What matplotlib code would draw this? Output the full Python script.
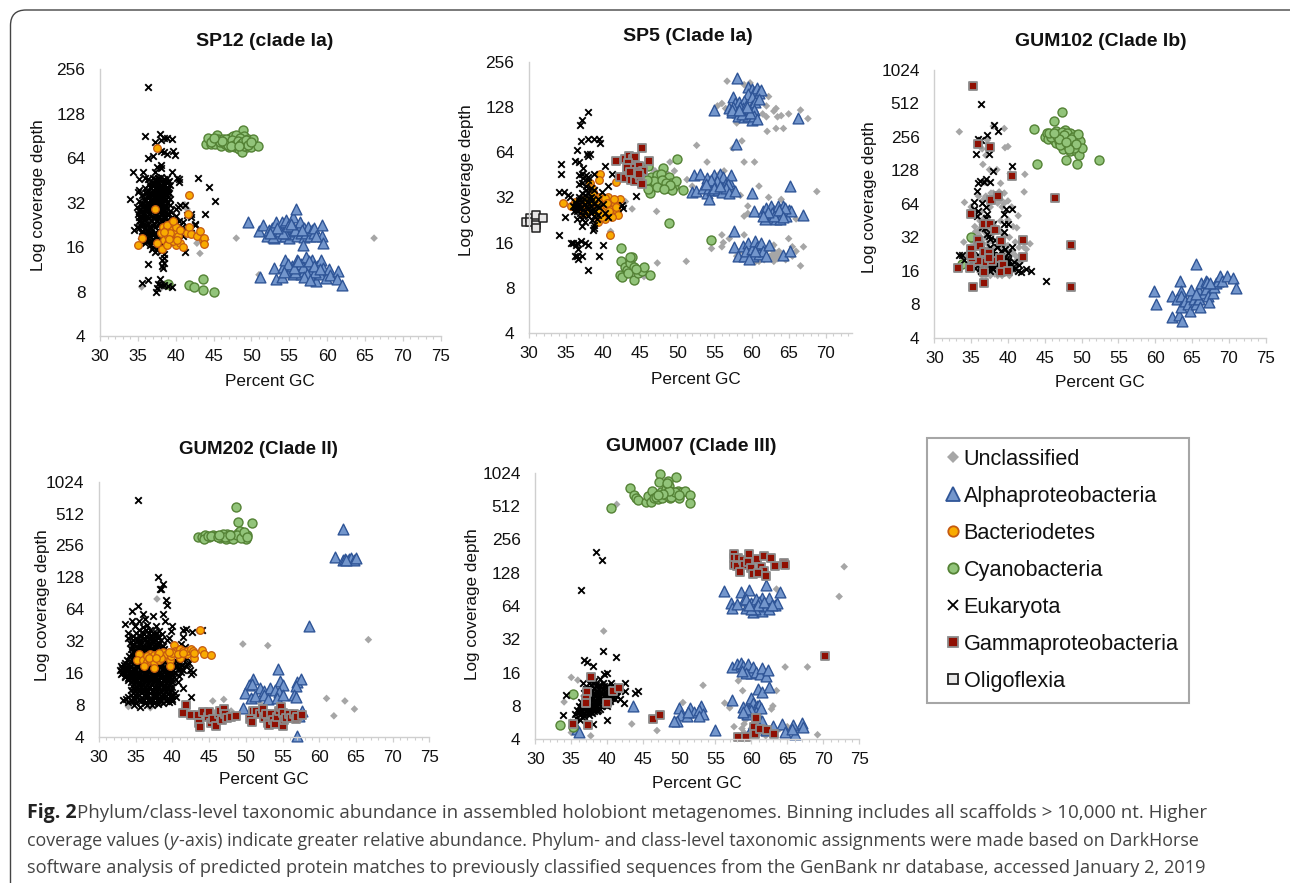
import matplotlib
matplotlib.use("Agg")
import matplotlib.pyplot as plt
from matplotlib.lines import Line2D
from matplotlib.patches import FancyBboxPatch
from matplotlib.ticker import FixedLocator, FixedFormatter, NullLocator

plt.rcParams['font.family'] = ['Liberation Sans', 'DejaVu Sans']
plt.rcParams['mathtext.fontset'] = 'custom'

W, H = 1290, 883

# ------------------------------------------------------------ SP12
sp12_unclass = [(48,18.4),(66.2,18.4),(43.2,14.5),(41.2,31),(44,18),(35.5,8.6),(38.5,9),(43,18.5),(42.3,20),(40,19),(51,10.4),(59.6,10),(60,10.5),(41.5,29),(38,8.4),(42.8,17),(52.5,19),(56,10.5)]
sp12_alpha = [(49.5,23.8),(51,20.6),(51.5,22.6),(52,19),(52.3,21),(52.7,21.5),(53,18.5),(53.2,20),(53.3,23.5),(53.6,19),(54,21),(54.1,23.5),(54.4,19),(54.6,24.3),(55,18.5),(55,21),(55.3,19.5),(55.5,22),(55.6,20.5),(55.5,25.5),(55.9,29),(56,19),(56.2,22),(56.4,23.5),(56.5,20),(57,18.6),(57,21.5),(57.2,20),(57.5,22),(57.8,19),(58,21),(58.2,20),(58.3,21.7),(56.8,16.6),(59.3,22.5),(59.3,19),(59.5,17),(54.5,20),(53.8,20.5),(52.8,18.7),(54.2,19.8),(54.8,22.2),(55.8,21),(56.7,21),(53.4,21.7),(52.4,20),(55.2,23),(58.5,18.9),
(51.1,10.1),(53,11.5),(53.3,9.7),(54,10),(54.2,11.8),(54.5,13),(55,11),(55.3,12),(55.5,10.6),(56,13),(56,11.5),(56.5,10.5),(56.5,12.3),(57,11),(57.2,13.7),(57.5,12),(57.8,10.4),(58,13),(58,11.3),(58.5,9.4),(58.7,12),(59,10.5),(59.2,13),(59.5,11.5),(59.8,9.9),(60.3,11.3),(60.4,10.4),(61.5,11),(61.3,9.8),(62,8.8),(55.8,10.8),(56.8,11.8),(57.3,10.6),(58.4,10.8),(54.8,12.3),(55.6,11.6),(56.2,12.8),(57.6,12.8),(58.2,12),(59,11.4),(56.9,10),(57.8,9.6),(54.3,10.8)]
sp12_bact = [(35,16.5),(35.5,18.5),(37.5,75),(41.8,36),(41.6,27),(37.3,29),(38,20),(38.3,22),(38.5,18),(38.7,21),(39,19),(39,17),(39.3,23),(39.5,21),(39.5,18.5),(39.8,20),(40,22),(40,16.5),(40.3,19),(40.6,21),(40.6,17),(41,16),(41.5,20),(41.7,22),(42,19.5),(42.8,19),(43.2,20.5),(43.6,18),(43.8,18.5),(43.7,16.8),(38.2,15.5),(38.8,16.5),(37.5,17),(39.2,20),(39.6,17.5),(40.2,18),(38.9,22.5),(39.7,24),(38.4,20.2),(39.1,18.2)]
sp12_cyano = [(44,80),(44.3,88),(44.6,80),(45,84),(45.2,80),(45.5,92),(45.6,86),(46,78),(46.2,86),(46.5,80),(46.8,84),(47,76),(47.2,88),(47.4,82),(47.6,90),(47.8,76),(48,86),(48.2,80),(48.4,74),(48.6,84),(48.8,78),(48.9,100),(48.7,70),(49,90),(49.2,82),(49.4,76),(49.6,86),(49.8,80),(50,76),(50.2,86),(50.9,78),(46.6,86),(47.2,80),(48,92),(48.5,88),(49,78),(44.7,83),(47.9,82),(45.8,83),(46.3,82),(46.9,79),(47.5,85),(47.7,79),(48.2,84),(48.6,80),(48.9,83),(49.3,85),(49.5,79),(49.9,83),(47.3,78),(48.3,77),(46.1,84),(45.1,88),
(39,9),(41.7,8.8),(42.4,8.6),(43.6,9.7),(43.6,8.2),(45,7.9)]
sp12_euk = [(36.4,195),(36,90),(37.9,94),(38,85),(38.4,88),(39.5,86),(38.8,88),(37.2,82),(38,72),(38.5,70),(38.8,68),(39.6,72),(39.9,67),(36.4,64),(37,66),(38,58),(37.5,56),(37.2,52),(38,55),(34.3,52),(35.7,52),(39.5,52),(35.2,46),(35.9,47),(36.4,46),(40.2,47),(40.5,44),(40.5,46),(43,47),(44.4,41),(45.2,33),(43.9,27),(41.2,31),(40.3,30),(40.6,31),(41.5,26.5),(42,27),(42,25.5),(40,26),(42.5,22.5),(42.5,23),(41.5,21),(42,20),(41,19),(41.2,14.8),(36.3,12.3),(38.2,13),(38.5,13.5),(38.5,12.5),(38.3,11.5),(38.2,12),(35.5,9.1),(36.3,9.6),(37.9,9.8),(37.6,9),(37.5,8.5),(38,8.8),(37.4,8),(39.5,8.6),(39,8.7),(38.5,8.9),(33.9,34),(35,38),(35.2,39),
(37.2,46),(37.6,47),(38,48),(38.4,46),(38.8,47),(39.1,45),
(36.5,43),(36.9,42),(37.3,43),(37.7,44),(38.1,42),(38.5,43),(38.9,41),(39.2,42),
(36,40),(36.4,39),(36.8,40),(37.2,38),(37.6,40),(38,39),(38.4,38),(38.8,39),(39.1,37),
(35.6,36),(36.1,37),(36.5,35),(36.9,36),(37.3,37),(37.7,35),(38.1,36),(38.5,35),(38.9,36),(39.2,34),
(35.2,33),(35.6,32),(36,33),(36.4,31.5),(36.8,33),(37.2,32),(37.6,33),(38,31.5),(38.4,33),(38.8,32),(39.2,31),
(34.9,30),(35.3,29),(35.7,30),(36.1,28.5),(36.5,30),(36.9,28.5),(37.3,30),(37.7,29),(38.1,30),(38.5,28.5),(38.9,29.5),(39.3,28),(40,29),
(35,27),(35.4,26),(35.8,27),(36.2,26),(36.6,27),(37,25.5),(37.4,27),(37.8,26),(38.2,27),(38.6,25.5),(39,26.5),(39.4,25),
(35.1,24),(35.5,23.5),(35.9,24.5),(36.3,23),(36.7,24.5),(37.1,23),(37.5,24),(37.9,23),(38.3,24),(38.7,23),(40.5,24),(41,23.5),
(34.5,21),(35.2,21.5),(35.6,20.5),(36,21.5),(36.4,20),(36.8,21.5),(37.2,20),(37.6,21),(38,19.5),(34.9,22),(40.8,22),
(35.8,19),(36.2,18.5),(36.6,19),(37,18),(37.4,19),(37.8,18),(38.2,17),(35.4,17.5),(36,17),(36.6,16.5),(37.2,16.5),(37.7,16),(38,15),(37.3,14.8),(36.9,15.5),(38.4,14.4)]
sp12_euk_core = [(37,47),(37.4,45),(37.8,46),(38.2,45),(38.6,45),(39,44),(37,44),(37.5,42),(37.9,41),(38.3,41),(38.7,40),(39,39.5),(36.6,41),(37,39),(37.4,41),(37.8,38),(38.2,40),(38.6,37),(39,38),(36.2,38),(36.6,37),(37,37),(37.4,35),(37.8,37),(38.2,34),(38.6,33.5),(39,35),(35.8,34),(36.2,35),(36.6,33.5),(37,34),(37.4,33.5),(37.8,34),(38.2,32.5),(38.7,34),(35.4,31),(35.8,31),(36.2,30.5),(36.6,31.5),(37,31),(37.4,31),(37.8,31),(38.2,29.5),(38.7,30.5),(35.1,28),(35.5,28),(35.9,28.5),(36.3,29),(36.7,28),(37.1,29.5),(37.5,28),(37.9,28),(38.3,28),(38.7,27.5),(39.1,27),(35.2,25.5),(35.6,25),(36,25),(36.4,25),(36.8,26),(37.2,25),(37.6,25),(38,24.5),(38.4,25),(38.8,24.5),(35.3,22.5),(35.7,22.5),(36.1,22.5),(36.5,22),(36.9,22.5),(37.3,22),(37.7,22.5),(38.1,22),(38.5,21.5),(35.5,20),(35.9,20),(36.3,21),(36.7,20),(37.1,19.5),(37.5,19.5),(37.9,20),(36,18),(36.4,17.5),(36.8,17.5),(37.2,17.5),(37.6,17),(38,16.5),(37,16),(37.5,15.2),(36.1,19.5),(38.4,26),(38.4,30),(37.2,35.5),(36.8,30),(36.4,27.5),(38.1,37.5),(37.6,38),(38.4,35.5)]

# ------------------------------------------------------------ SP5
sp5_unclass = [(55.4,130),(56,135),(56.5,125),(56.7,190),(58,100),(59.8,185),(59,180),(60.5,115),(61.5,115),(62,110),(62.3,150),(62,130),(63,120),(63.3,125),(63.5,110),(64,112),(65,115),(66.6,122),(67.6,107),(62.1,88),(63.3,92),(64.3,92),(58.7,76),(52.6,71),(57.5,68),
(54,55),(59,55),(60.4,55),(55.7,46),(56.3,48),(51.3,42),(52,38),(57.5,35),(58.5,33),(61,38),(62.3,32),(64,31),(59.5,28),(59.5,25),(59,24),(66,23),(68.8,35),(49.6,48),(49,55),(47.2,25.8),(43.9,26.8),(41,19),(38.3,33),(43,30),(45,50),(46.5,50),(47,48),(48.5,47),(42,42),
(56,18),(56.2,16),(54.6,14.6),(56,15),(57,17),(58.5,14),(58,13),(59,18),(59.5,13),(60,12),(61,12),(62,13),(62.5,13),(63,14),(63.2,13),(63.5,12.5),(64,13),(65,17),(65.5,15),(66,14),(65.5,13),(66.6,11.2),(67,15),(51.2,12),(47.3,11.7),(44.5,10),(45.5,9.5),(44,12.5),(63,12),(62.8,15),(62.2,14.5),(60.5,11.9),(63.7,14),(62.8,12.8),(63.3,13.6),(63.6,13.8),(62.9,13.4),(60.9,12.6),(57.8,14.5),(58.3,12.6),(61.7,12.3),(63,15.4),(64.6,12.3)]
sp5_alpha = [(58,200),(55,122),(57.5,150),(59.5,175),(60,168),(60.3,160),(60.8,170),(61,158),(61.3,165),(59.5,155),(60,150),(57.8,135),(58.3,138),(59,140),(60,130),(60.5,138),(61,145),(58,118),(58.8,125),(59.5,120),(60.3,122),(57.3,118),(57,125),(57.5,128),(58.2,112),(58.5,128),(59,110),(59.5,112),(60,105),(60.3,112),(60.8,106),(66.3,108),(57.4,123),(59.2,130),(58.7,115),(59.8,116),(59.4,127),(58.3,122),
(57.9,72),(52.3,45),(53,45.5),(54,43),(54.5,40),(55,45),(55.5,42),(55.8,46),(56.2,44),(56.5,40),(57,41),(57.2,45),(56.8,39),(52,35),(52.5,35.5),(53.5,37),(54,34),(54.3,37),(54.7,36),(55.2,39),(55.5,36),(56,35),(56.5,37),(57,34),(57.8,35.5),(54.2,31),(60,34),(65.2,38),(55.3,41),(54.5,42),(55,37),(55.8,38),(53.8,39),
(60.3,26),(61.5,26),(62,27),(62.3,24),(62.6,28),(63,26),(63.3,23),(63.5,28),(64,25),(64.2,28),(64.6,24),(65,26.5),(65.3,26),(62.8,25),(61.8,23),(63.8,23),(66.9,24.5),(64.5,27),(63,24),(62.2,25.5),(63.7,26.5),(61.6,24.2),(64.3,23.8),
(57.6,19),(57.6,15),(58.2,13),(58.8,15.2),(59,13),(59.5,16),(59.2,14),(60,14.5),(60.2,13),(60.4,16.5),(60.8,15),(61,13.5),(61.3,16),(61.5,14),(62,13),(62.3,15.5),(64.2,13.3),(65.2,14),(59.7,12.5),(60.5,14)]
sp5_bact = [(34.6,29.5),(35.7,28),(36.2,30),(37,27),(37.5,31),(37.8,25),(38,28),(38.3,30),(38.5,27),(38.8,33),(38.6,35),(39,25),(39.2,29),(39.4,32),(39.6,46),(39.7,27),(40,30),(40,24),(40.3,26),(40.5,28),(40.7,32),(40.9,24),(41.2,27),(41,30),(41.5,25),(41.6,29),(41.9,26),(42,24.5),(42.3,31),(41.7,40.5),(40.9,18),(39.4,42),(38.2,40),(37.3,25),(41.2,23.5),(40.2,22.8),(39.3,22),(39.8,23.5),(38.5,37),(39.5,30),(40.2,31.5),(40.8,26),(39.6,25.3),(41.4,31),(39.1,26.5),(40.5,29.5),(41.7,27.5),(38.9,31)]
sp5_cyano = [(50,58),(48,50),(46,52),(45,52),(50.8,36),(48.9,21.5),(54.6,16.6),(42.4,14.8),(45.5,43),(46,40),(46.4,44),(46.7,38),(47,42),(47.3,45),(47.5,40),(47.8,46),(48,38),(48.3,42),(48.6,37),(48.9,44),(49.2,40),(49.6,38),(49.8,41),(46.3,34),(47.6,38.7),(46,36.5),(49.3,36),(46.8,41),(47.9,41.5),(48.5,40),(49,38.5),(47.2,37.5),(45.9,42),(48.2,36.5),
(42.4,12),(42.9,11),(43.2,10.5),(43.6,11.7),(43.9,12.8),(44.1,11),(42.2,9.7),(42.6,9.5),(43.3,10),(44.1,9),(44.7,10),(45.2,10.4),(45.5,11),(46.3,9.8),(43.6,12.8),(44.4,10.6)]
sp5_euk = [(37.9,118),(37.1,105),(36.9,97),(37,76),(38,78),(38.8,78),(39.4,78),(39.6,74),(36.5,66),(37.8,62),(38.2,62),(38,60),(36.2,56),(36.8,55),(34.3,53),(37.3,50),(38.7,46),(40.2,52),(41.2,46),(34.3,46),(36.8,45),(37.2,46),(37.7,45),(38,42),(37.2,40),(36.8,39),(37.7,38),(38.3,37),(34,35),(34.7,35),(35.2,33),(35.5,32),(36.2,30),(36.7,32),(37.1,34),(37.6,33),(38,34),(38.4,32),(38.8,36),(39.3,31),(39.8,35),(40.6,38),(44.4,32.5),(42.6,28.5),(42.7,27),
(36.2,27.5),(36.7,29),(37.1,30),(37.5,29),(37.9,30),(38.3,28),(38.7,29),(39.1,28),(39.5,27.5),(40,29),(36,26),(36.5,26),(37,27),(37.5,26),(38,27),(38.4,25),(38.9,26),(39.3,24.5),(40.2,25),(40.7,23.5),(34.9,23.5),(36.5,23),(37.2,23),(37.5,22),(37.9,24),(38.5,22.5),(39.2,23),(37.2,20.5),(38.7,21),(38.6,19.5),(38.7,20),
(34,18),(35.7,16),(36.3,15.5),(36.6,14.5),(37,16.5),(37.5,16),(40,15.5),(39.4,13),(36.5,13),(36.2,13),(36.6,12.4),(37.2,13),(37.9,10.5),(38,15.5),(35.9,16),(36.5,16),(37.7,36),(36.7,27),(37.3,43),(37.9,44),(38.5,30.5),(37.4,31),(36.9,25),(38.1,31.5),(37.7,27.5),(38.5,26.5),(36.4,28.5),(35.9,28),(38.8,24),(37.3,24.5),(36.7,30.5)]
sp5_gamma = [(45.2,68),(41.7,56),(43,58),(43.5,60),(44,58),(44.3,59),(46.2,56),(43.4,54),(44.8,52),(43.8,50),(45.4,48),(43.2,50),(44.5,47),(44,45),(42.2,44),(43,43),(43.7,42),(44.3,41),(45,43),(45.2,39),(44.8,46),(43.6,47)]
sp5_oligo = [(29.6,22),(30.2,23.3),(30.2,22),(31,22.8),(31,24.5),(31,21),(31.9,23.3),(31,20)]

# ------------------------------------------------------------ GUM102
g102_unclass = [(33.4,285),(38,320),(39.5,305),(39.6,205),(40,210),(36.5,200),(37,175),(35.8,230),(37.2,240),(36,225),(42.3,118),(42.2,82),(39,98),(38.5,130),(40.3,120),(36.9,100),(34.1,66),(37,75),(38,80),(38.8,82),(39.5,80),(35,60),(36,75),(36.7,70),(39,70),(39.5,65),(40,68),(40.5,60),(38.3,73),(41.4,50),(41.2,39),(40.7,40),(35.8,50),(36.2,45),(37.2,48),(38,42),(39,45),(40,46),(34,29),(35,30),(35.5,40),(36,34),(37.5,36),(38.5,30),(39.6,33),(40.2,32),(41,29),(42.2,26),(43,28),(42.5,25),(35.5,25),(36.5,26),(37.5,24),(38.7,27),(39.8,24),(41,22),(33.8,18),(34.5,22),(35.5,19),(36.2,21),(37,16),(37.6,14.5),(38.2,15),(39.2,14.5),(40.2,14.5),(41,16),(42,20),(35.5,17),(36.5,14.5),(38,18),(39,19),(40.5,18),(37.5,130),(36.6,145),
(36.4,55),(36.8,48),(37.6,60),(37.7,80),(38.6,65),(39.2,60),(35.6,36),(36.2,38),(36.8,36),(37,32),(37.4,40),(38,35),(38.7,38),(39.2,35),(35.2,30),(35.8,28),(36.4,30),(37.2,28),(37.8,30),(38.3,26),(39,25),(39.4,28),(40,27),(40.6,24),(41.5,26),(35,24),(35.8,22),(36.8,24),(37.2,21),(38,23),(38.4,21),(39.2,22),(39.7,22),(40.3,22),(35.2,18),(36,17.5),(36.8,17),(37.4,19),(38.2,17),(39,16),(39.8,16.5),(40.5,16),(41.2,20),(41.6,19),(36.2,15.5),(37,14.5),(38.6,14.5)]
g102_alpha = [(65.5,18.5),(59.9,10.5),(60.1,8),(63.4,13),(63.5,10.5),(62.3,9.5),(63,9),(63.5,9.5),(62.3,6.2),(63.2,6.4),(63.7,5.6),(63.5,7.5),(64,8.5),(64.5,8),(64.8,9.5),(64.9,10.8),(64.7,7),(65.3,9),(65.6,8),(66,10.5),(66,9),(66.2,12.5),(66.1,7.6),(66.6,10),(66.9,11),(66.9,13),(67,12.6),(67.2,9.5),(67.3,8.3),(67.8,10),(68,11.5),(68.2,12.5),(68.5,13),(68.8,14.5),(69,13),(69.7,14.3),(70.6,13.7),(70.9,11.2),(67.5,12.3),(65.6,9.8)]
g102_cyano = [(43.5,300),(44,145),(47.3,430),(46.3,355),(52.3,158),(45,255),(45.3,275),(45.5,245),(46,265),(46.2,240),(46.5,225),(46.5,290),(47,270),(47.2,250),(47.5,225),(47.5,200),(47.8,295),(47.9,160),(48,255),(48.2,235),(48.4,190),(48.6,270),(48.8,215),(49,240),(49.2,190),(49.3,265),(49.4,145),(49.5,250),(49.7,175),(49.8,235),(50,205),(48.4,280),(47,235),(45.8,255),(49,205),(48,215),(45.6,280),(46.7,260),(47.4,285),(48,275),(48.9,255),(49.5,270),(47.6,265),(47.1,215),(46.9,245),(48.5,245),(49.2,220),(48.3,200),(47.9,230),(46.2,280),(35,32.5),(33.8,18.5)]
g102_euk = [(36.3,510),(38.1,325),(38.6,290),(37.2,265),(35.9,245),(36.3,240),(35.6,180),(37.4,178),(40.6,140),(38,127),(36.2,102),(36.7,100),(37,108),(37.5,100),(36,98),(35.8,83),(35.4,67),(36.5,65),(37,60),(35.4,58),(36,55),(37.2,52),(40.5,57),(39.7,58),(39.5,52),(35.8,50),(37,48),(39.4,42),(40,42),(38,42),(36.5,40),(36.9,39),(39.5,36),(37.2,34),(37.4,33),(37.5,31),(38.2,30),(39,28),(40.6,26),(38.5,26),(37.5,26),(33.3,22),(33.8,22),(37,25),(38,24),(39,24),(39.6,25),(40,23),(36,22),(36.6,23),(37.3,22.5),(38,22),(38.8,22),(39.5,21),(34,20),(35,19),(35.6,19),(36.3,20),(37,20),(37.7,20),(38.5,20),(39.2,20),(40,20),(40.8,19),(35.5,17),(36.2,17),(36.7,18),(37.3,17),(37.8,17),(38,16.5),(38.4,18),(39,17),(39.7,18),(40,19),(40.5,17),(41,17),(41.5,18),(41.4,16),(41.8,15.5),(42.5,16.5),(43.1,16),(45.2,13),(36.4,16),(37.6,16),(37.9,18),(38.8,16),(39.6,19.5),(40,18),(40.2,17.5),(37.4,18.5),(38.2,17.5),(37.7,18.5),(38.6,18.8),(39.3,18.5),(36.8,20),(37.3,19.5),(38.1,19.2),(39.8,20.5),(39.9,17),(37.5,17.4),(37,17.3)]
g102_gamma = [(35.3,740),(35.9,223),(37.5,208),(40.6,113),(46.4,72),(48.5,27.5),(48.5,11.5),(42,30),(42,21.5),(35,52),(37.7,70),(38.7,75),(36.7,42),(37.5,42),(38.2,37),(36,30),(39,29.5),(35,25),(36.2,27),(36.7,23.5),(37.4,23),(33.2,17),(34.9,17),(35.3,11.5),(36.7,12.5),(36.8,15.5),(36.8,19),(36,19.5),(35.1,21),(35,22),(37.9,19.5),(38.9,21),(39.3,18),(39,15.5),(40,16),(37.4,21)]

# ------------------------------------------------------------ GUM202
g202_unclass = [(37.9,80),(49.6,30),(53,29),(66.7,33),(61,9.2),(63.5,8.7),(64.8,7.3),(62,6.3),(45.5,8.7),(47,9),(34,7.7),(37,7.5),(40.3,13),(43.5,40),(48,7),(52,8.2),(55,7.6)]
g202_alpha = [(63.2,370),(62.2,197),(63.2,185),(63.5,190),(64,192),(64.4,196),(64.7,186),(65,196),(63.7,185),(58.6,44),(54.4,17.3),(51,14),(50.4,12.2),(50.9,12.5),(54.7,13.5),(57,13),(57.5,14),(56.9,12),(55,12.3),(52,11.5),(52.5,10.8),(53.3,11.5),(54,11),(54.5,10.5),(49.9,10.3),(50.7,9.3),(51.3,9.6),(52.5,10),(53,9),(54.2,9.2),(55,10),(56.5,10),(56.8,9.5),(49.6,7.4),(57.6,7),(57.2,6.3),(57,4.1)]
g202_bact = [(43.8,41),(40.2,29.5),(35.5,24),(35.2,21),(36,21),(36.5,20.5),(36.1,18.5),(37,21),(37.5,20.5),(37.5,18),(37,24),(37.5,23.5),(38,24),(38.2,21),(38.7,25),(39,23),(39.3,24),(39.7,21),(39.7,18.5),(39.8,23),(40.3,26),(40.5,25),(41,22),(41,27),(41.5,26),(42,24),(42,26),(42.5,27),(42.8,26),(43,22),(43,24.5),(44,26.5),(44.3,24),(45.2,23.7),(38.5,22),(36.5,23),(40,24.5),(38.2,24.5),(39.5,25),(40.7,24),(41.5,24.5),(36.8,22),(37.7,22)]
g202_cyano = [(48.7,590),(49,425),(50.9,420),(43.5,310),(44,305),(44.5,320),(45,305),(45.5,320),(46,315),(46.5,300),(47,315),(47.5,330),(47.8,300),(48,320),(48.5,305),(49,335),(49.5,310),(49.8,330),(50,295),(50.2,320),(46.7,310),(47.3,295),(48.2,310),(49.2,350),(44.3,295),(44.8,315),(45.3,312),(46.2,305),(46.9,325),(47.6,310),(48.3,295),(48.8,320),(49.3,300),(49.7,345),(50.1,305),(47.1,305),(46.4,320),(47.8,320)]
g202_euk = [(35.3,690),(38,130),(38.7,110),(38.5,100),(38.3,100),(39.1,78),(39.2,70),(35.3,68),(34.5,62),(36,58),(36.2,52),(37.3,55),(38.7,58),(39,50),(34.5,50),(35.5,50),(33.5,46),(39.9,44),(39.8,40),(41.4,41),(41.9,42),(42.7,39),(44,41),(41.5,35),(39.3,33),(39.5,34),(34,38),(36,43),(36.5,45),(37,41),(37.8,44),(38.2,40),(38.6,37),
(34,34),(34.6,36),(35.1,38),(35.6,36),(36.1,37),(36.6,35),(37.1,36),(37.6,36),(38.1,34),(38.5,33),(34.2,31),(34.7,30),(35.2,32),(35.7,31),(36.2,33),(36.7,30),(37.2,32),(37.7,30),(38.2,31),(38.7,29),(41.2,30),(41.7,28),
(34.3,27),(34.8,26),(35.3,28),(35.8,27),(36.3,26),(36.8,28),(37.3,26),(37.8,28),(38.3,26),(38.8,27),(39.2,25),(34.5,24),(35,23),(35.5,25),(36,24),(36.6,25),(37.1,23),(37.6,25),(38.2,23),(38.8,24),(39.5,23),(42.2,20),(41.5,21),(42,22),
(33.8,21),(34.3,20.5),(34.8,21.5),(35.3,20),(35.8,22),(36.3,20),(36.8,21.5),(37.3,20),(37.8,21.5),(38.3,19.5),(38.8,20.5),(39.3,19.5),(39.8,20),(40.3,21),(40.8,20),(41.3,19),(41.8,18.5),(42.4,17),(42.8,16.5),(42.5,15.5),
(33,18.5),(33.4,19),(33.8,18),(34.3,18.5),(34.8,17.8),(35.3,18.7),(35.8,18),(36.3,18.5),(36.8,18),(37.3,18.5),(37.8,17.8),(38.3,18.5),(38.8,18),(39.3,18),(39.8,17.7),(40.3,18.4),(40.8,17.5),(41.2,17.5),
(32.8,17),(33.3,16.5),(33.8,17),(34.3,16),(34.8,16.7),(35.3,16),(35.8,16.8),(36.3,16),(36.8,16.8),(37.3,16),(37.8,16.6),(38.3,16),(38.8,16.6),(39.3,16),(39.8,16.3),(40.3,16),(33,15.5),(33.6,15),(34.2,14.8),(34.8,15),(35.4,14.8),(36,15),(36.6,14.8),(37.2,15),(37.8,14.8),(38.4,15),(39,14.8),(39.6,15),(40.2,14.6),
(34,13.6),(34.6,13.8),(35.2,13.4),(35.8,13.8),(36.4,13.4),(37,13.8),(37.6,13.4),(38.2,13.8),(38.8,13.4),(39.4,13.6),(40,13),(34.8,12.5),(35.4,12.3),(36,12.6),(36.6,12.2),(37.2,12.6),(37.8,12.2),(38.4,12.6),(39,12.2),(39.6,12.4),(41.4,11.6),
(35,11.3),(35.6,11.4),(36.2,11.1),(36.8,11.5),(37.4,11.1),(38,11.4),(38.6,11),(39.2,11.3),(39.8,11),(34.6,10.4),(35.2,10.3),(35.8,10.5),(36.4,10.1),(37,10.4),(37.6,10),(38.2,10.3),(38.8,10),(39.4,10.2),(40,9.7),(34,9.5),(34.6,9.3),(35.2,9.6),(35.8,9.2),(36.4,9.5),(37,9.1),(37.6,9.4),(38.2,9),(38.8,9.3),(39.4,9),(40,9),(42.5,9.4),
(33.3,8.8),(33.9,8.5),(34.5,8.6),(35.1,8.4),(35.7,8.7),(36.3,8.3),(36.9,8.6),(37.5,8.3),(38.1,8.6),(38.7,8.4),(39.6,8.5),(34.8,8),(35.6,7.7),(36.6,8),(37.2,8),(38,8.1)]
g202_euk_core = [(34.9,44),(35.4,41),(35.9,39),(36.4,41),(36.8,38),(37.3,38),(37.8,38),(34.6,33),(35.1,34),(35.6,33),(36.1,34),(36.6,32),(37.1,33.5),(37.6,33),(38,36),(34.5,28.5),(35,29),(35.5,30),(36,29),(36.5,28),(37,29.5),(37.5,28.5),(38,29.5),(38.5,28),(34.6,25.5),(35.1,26),(35.6,26),(36.1,25.5),(36.6,26.5),(37.1,26),(37.6,26.5),(38.1,25),(38.6,25),(34.1,23),(34.7,22.5),(35.2,24.5),(35.7,23),(36.3,22.8),(36.8,24),(37.3,22.5),(37.9,23.5),(38.4,22),(39.1,21.8),(39.9,21.6),(40.6,22),
(33.5,20),(34,19.5),(34.6,19.7),(35.1,19),(35.6,20.5),(36.1,19.5),(36.6,20.5),(37.1,19),(37.6,19.7),(38.1,20.5),(38.6,19.2),(39.1,21),(39.6,19),(40.1,19.6),(40.6,19),(41.1,20.5),(33.1,17.8),(33.6,17.6),(34.1,17.3),(34.6,17.5),(35.1,17.2),(35.6,17.5),(36.1,17.3),(36.6,17.4),(37.1,17.2),(37.6,17.2),(38.1,17.2),(38.6,17.4),(39.1,17.2),(39.6,17),(40.1,17),(40.6,18.8),
(33.1,16),(33.6,16),(34.1,15.7),(34.6,15.5),(35.1,15.6),(35.6,15.7),(36.1,15.8),(36.6,15.5),(37.1,15.7),(37.6,15.5),(38.1,15.7),(38.6,15.5),(39.1,15.6),(39.6,15.6),(40,15.5),(33.5,14.5),(34,14.3),(34.5,14.2),(35,14.1),(35.5,14.3),(36,14.2),(36.5,14.1),(37,14.3),(37.5,14.2),(38,14.1),(38.5,14.3),(39,14.1),(39.5,14.2),(40,14),(34.3,13),(34.9,13),(35.5,13),(36.1,13),(36.7,12.9),(37.3,13),(37.9,12.9),(38.5,13),(39.1,12.9),(39.7,12.9),(34.5,12),(35.1,11.9),(35.7,11.8),(36.3,11.9),(36.9,11.9),(37.5,11.8),(38.1,11.8),(38.7,11.7),(39.3,11.8),(39.9,11.8),
(34.4,11),(34.9,10.9),(35.5,10.9),(36.1,10.7),(36.7,10.8),(37.3,10.7),(37.9,10.8),(38.5,10.6),(39.1,10.7),(39.7,10.6),(40.3,10.4),(34.3,10),(34.9,9.9),(35.5,9.9),(36.1,9.9),(36.7,9.8),(37.3,9.8),(37.9,9.8),(38.5,9.7),(39.1,9.6),(39.7,9.6),(33.7,9.1),(34.3,8.9),(34.9,9),(35.5,8.9),(36.1,8.9),(36.7,8.9),(37.3,8.9),(37.9,8.8),(38.5,8.8),(39.1,8.7),(39.9,8.7),(40.5,9.5),(40.7,13.2),(40.9,15),(41.2,16.5),(41.5,17.2),(42,19.5),(37.5,9.8)]
g202_gamma = [(41.9,8),(41.5,6.7),(42.5,6.4),(43.5,6.4),(43.6,5.4),(43.7,4.9),(44.2,6.8),(44.8,6.1),(45,6.9),(45.2,5.4),(45.5,5.9),(46,5.1),(46.3,6.5),(46.5,7),(46.7,5.8),(47,7.3),(47.2,6.5),(47.5,6),(48,6.1),(48.7,6.3),(50.6,5.9),(50.9,5.5),(51,7),(51.4,7),(52,6.5),(52.4,7.3),(52.5,6),(52.8,6.6),(53,5.4),(53.2,5.2),(53.5,6.5),(53.7,5.8),(54,5.3),(54.3,6.1),(54.5,7),(54.8,7.6),(55,5),(55.1,6.7),(55.2,5.7),(55.5,6),(55.9,6.5),(56.2,6),(56.5,6.5),(56.8,5.9),(57,6.2),(57.7,6.4)]

# ------------------------------------------------------------ GUM007
g007_unclass = [(41.3,530),(72.9,145),(72.2,78),(39.5,38),(64.7,18),(67.8,18),(53.3,12.3),(63.5,11),(60.2,9),(58.2,13.5),(58.8,11),(56.3,8.5),(57,7.7),(60.5,7),(62.8,7.5),(63,8),(43.4,5.5),(46.9,4.8),(35,14.5),(35.9,13.7),(34,8.7),(35.3,9.7),(37.7,4.3),(35,4.6),(57.6,5.2),(58.2,4.3),(58.7,5),(59,5.5),(59,4.6),(59.2,6),(60,5),(60.8,4.5),(61.5,4.5),(62,4.3),(63,5),(64,5),(65,5.2),(66,5),(69.2,4.4),(50.5,8.6),(53.5,6.4),(59,6.6),(63.5,91)]
g007_alpha = [(56.2,88),(57.2,68),(57.3,61),(58.6,86),(59,72),(59.7,90),(59.2,62),(60,68),(60.3,57),(60.6,74),(61.2,62),(61.5,76),(61.5,58),(62,64),(62.1,100),(62.5,75),(62.5,60),(63.3,65),(63.5,68),(64,86),(60.5,60),(61,70),(58,67),(59.2,74),(60,60),(60.9,65),(61.8,70),(62.9,66),(59.7,66),
(57.3,18),(58,19),(58.5,19.5),(58.9,18.5),(59.2,17),(59.5,19),(60,16),(60.3,18),(60.7,16.3),(61.2,15.5),(61.5,17.5),(62,15),(62.3,17),(59.3,16),(58.7,16.7),
(60.9,11.3),(61.5,10.7),(62.5,11.8),(57.3,9),(59.5,8),(59.8,7.8),(60,9.5),(60.2,8.5),(60.5,7.5),(60.8,8),(61.1,8.2),(59,7),(59.4,6.8),(60.6,7),(58.8,7.8),(60,7.3),(59.3,7.5),(58.9,7),(61.4,7.6),
(43.5,8),(50,7.7),(51.5,7.6),(53,8),(50.2,6.7),(51,6.5),(52,7),(52.7,7.4),(53.3,6.8),(49.7,5.8),(49.3,5.8),(51.2,7),(52.8,6.5),
(55,4.9),(35.8,5),(36,4.7),(60,5),(61.5,5.9),(62,4.9),(63,5.3),(64.2,5.5),(64.7,4.7),(65.8,5.4),(66,4.5),(67,5.6),(67.2,5.2),(65.6,5),(61,5.2)]
g007_cyano = [(47.3,1000),(49.6,930),(47.2,840),(48.4,860),(43.2,740),(43.7,640),(44,610),(44.3,580),(45.4,560),(45.6,625),(46,560),(46.2,700),(46.5,600),(47,590),(47.4,680),(47.8,620),(48.2,730),(48.5,780),(48.7,600),(49,680),(49.3,650),(49.8,700),(50,610),(50.4,680),(50.8,700),(51.5,650),(51.5,545),(46.8,620),(47.6,600),(48.1,650),(48.4,680),(48.9,620),(49.4,690),(49.9,640),(48.6,700),(48.3,820),(47.8,660),(47.1,650),
(40.5,490),(35.3,10.3),(33.4,5.4),(35.2,5.2)]
g007_euk = [(38.4,195),(39.2,168),(36.3,90),(39.4,25),(41.2,22),(36.8,21),(37.2,20),(38,18.5),(39.5,15.5),(40,16),(42.5,13),(42.5,11),(41.2,11),(44.3,11),(43.8,10.5),(34.3,10),(33.8,6.7),(40,6),(38,5.5),(36.6,12.8),(37.7,15),(39,14),(40.5,13),
(37.5,13),(38.2,13.5),(38.8,12.5),(39.4,13),(40,12),(40.6,12),(37,11.5),(37.6,11.7),(38.2,11.7),(38.8,11.3),(39.4,11.5),(40,11),(40.6,10.7),(41.2,10),(36.8,10.5),(37.4,10.5),(38,10.3),(38.6,10.5),(39.2,10.3),(39.8,10),(40.4,9.7),(41,9.3),(41.8,9.2),(42.3,8.5),(36.8,9.5),(37.4,9.5),(38,9.3),(38.6,9.5),(39.2,9.2),(39.8,9),(40.4,8.8),(36.4,8.6),(37,8.7),(37.6,8.6),(38.2,8.6),(38.8,8.3),(39.4,8.4),(40,8),(36,8),(36.6,7.8),(37.2,7.9),(37.8,7.7),(38.4,7.8),(39,7.5),(35.8,7.3),(36.4,7.2),(37,7.2),(37.6,7),(38.2,7.2),(35.5,6.8),(36.2,6.6),(36.8,6.5),(37.4,6.6),(35.6,6.2),(36.2,6),(35.2,5.7)]
g007_euk_core = [(37.8,12.3),(38.4,12.3),(39,12),(39.6,12.2),(37.3,11),(37.9,11),(38.5,11),(39.1,10.8),(39.7,10.8),(40.3,10.3),(40.9,10.2),(37.1,10),(37.7,10),(38.3,9.9),(38.9,9.9),(39.5,9.8),(40.1,9.4),(40.7,9.4),(37.1,9.1),(37.7,9.1),(38.3,9),(38.9,9),(39.5,8.9),(40.1,8.6),(36.7,8.2),(37.3,8.3),(37.9,8.2),(38.5,8.2),(39.1,8),(39.7,8.1),(36.3,7.6),(36.9,7.6),(37.5,7.5),(38.1,7.5),(38.7,7.4),(36.1,7),(36.7,6.9),(37.3,6.9),(37.9,6.9),(36.5,6.3),(38.4,8.7),(38.8,9.5),(37.8,9.6),(39.3,9.5),(39.9,9.5),(37.5,8.9),(38.1,8),(37,8.1),(38.6,7.2),(38,12.8),(40.3,11.2),(41.4,9.8)]
g007_gamma = [(70.2,22.5),(46.3,6.1),(47.3,6.7),(37.8,14.5),(37.2,10.7),(37,9.2),(37,8.5),(37.3,5.4),(35.2,5.5),(40,8.5),(40.8,11),(41.6,11.7),(57.6,190),(57.6,175),(58.2,172),(57.6,150),(58,148),(58.8,165),(59.7,190),(59,150),(59.6,160),(60,140),(60.8,170),(61.8,180),(61.4,145),(61.8,132),(60.3,125),(60.9,127),(62,120),(58.4,130),(62.8,172),(63.3,148),(64.5,155),(64.7,150),(60.7,6.2),(60.4,5.2),(60.5,4.5),(61.2,5),(62.2,4.9),(63.2,4.5),(58.2,4.2),(59.2,4.2)]

# ------------------------------------------------------------ panel text
panel_titles = ["SP12 (clade Ia)", "SP5 (Clade Ia)", "GUM102 (Clade Ib)", "GUM202 (Clade II)", "GUM007 (Clade III)"]
x_label = "Percent GC"
y_label = "Log coverage depth"
x_ticks_full = [30, 35, 40, 45, 50, 55, 60, 65, 70, 75]
x_ticks_sp5 = [30, 35, 40, 45, 50, 55, 60, 65, 70]
y_ticks_256 = [4, 8, 16, 32, 64, 128, 256]
y_ticks_1024 = [4, 8, 16, 32, 64, 128, 256, 512, 1024]
legend_names = ["Unclassified", "Alphaproteobacteria", "Bacteriodetes", "Cyanobacteria", "Eukaryota", "Gammaproteobacteria", "Oligoflexia"]
caption_bold = "Fig. 2"
caption_line1 = "Phylum/class-level taxonomic abundance in assembled holobiont metagenomes. Binning includes all scaffolds > 10,000 nt. Higher"
caption_line2 = ["coverage values (", "y", "-axis) indicate greater relative abundance. Phylum- and class-level taxonomic assignments were made based on DarkHorse"]
caption_line3 = "software analysis of predicted protein matches to previously classified sequences from the GenBank nr database, accessed January 2, 2019"

# marker styles, by series
ST = {
    "un": dict(marker="D", s=15, c="#a6a6a6", edgecolors="none"),
    "al": dict(marker="^", s=60, c="#7396cc", edgecolors="#2f5597", linewidths=1.0),
    "ba": dict(marker="o", s=30, c="#f9ab00", edgecolors="#c55a11", linewidths=0.9),
    "cy": dict(marker="o", s=42, c="#92c47a", edgecolors="#548235", linewidths=1.0),
    "eu": dict(marker="x", s=22, c="black", linewidths=1.35),
    "ga": dict(marker="s", s=27, c="#8f0f02", edgecolors="#8c8c8c", linewidths=1.3),
    "ol": dict(marker="s", s=30, c="#e7e6e6", edgecolors="#222222", linewidths=1.1),
}
AXIS_GREY = "#cfcfcf"
TITLE_SIZES = [14, 14, 14, 13.5, 14]

fig = plt.figure(figsize=(W / 100, H / 100), dpi=100, facecolor="white")

# rounded outer frame of the figure panel
frame = FancyBboxPatch((10.5 / W, (H - 900) / H), (1400) / W, (890) / H,
                       boxstyle="round,pad=0,rounding_size=0.012", transform=fig.transFigure,
                       fc="none", ec="#444444", lw=1.0, clip_on=True, mutation_aspect=W / H)
fig.add_artist(frame)


def panel(idx, left, right, top, bottom, xmax, xticks, yticks, series, title_xy, xlabel_xy, ylabel_xy):
    ax = fig.add_axes([left / W, 1 - bottom / H, (right - left) / W, (bottom - top) / H])
    ax.set_xlim(30, xmax)
    ax.set_yscale("log", base=2)
    ax.set_ylim(yticks[0], yticks[-1])
    for key, pts in series:
        if pts:
            ax.scatter([p[0] for p in pts], [p[1] for p in pts], clip_on=False, **ST[key])
    for s in ("top", "right"):
        ax.spines[s].set_visible(False)
    for s in ("left", "bottom"):
        ax.spines[s].set_color(AXIS_GREY)
        ax.spines[s].set_linewidth(1.0)
    ax.set_xticks(xticks)
    ax.set_xticks([v for v in range(30, int(xmax) + 1)], minor=True)
    ax.tick_params(axis="x", which="major", length=3.8, width=0.9, color=AXIS_GREY, labelsize=12.2, pad=5.5, labelcolor="#111111")
    ax.tick_params(axis="x", which="minor", length=1.8, width=0.8, color=AXIS_GREY, direction="out")
    ax.yaxis.set_major_locator(FixedLocator(yticks))
    ax.yaxis.set_major_formatter(FixedFormatter([str(v) for v in yticks]))
    ax.yaxis.set_minor_locator(NullLocator())
    ax.tick_params(axis="y", which="major", length=0, labelsize=12.4, pad=10.5, labelcolor="#111111")
    w, h = right - left, bottom - top
    ax.set_title(panel_titles[idx], x=(title_xy[0] - left) / w, y=(bottom - title_xy[1]) / h, va="center",
                 fontsize=TITLE_SIZES[idx], fontweight="bold", color="#111111", pad=0)
    ax.set_xlabel(x_label, fontsize=12.3, color="#111111")
    ax.xaxis.set_label_coords((xlabel_xy[0] - left) / w, (bottom - xlabel_xy[1]) / h)
    ax.xaxis.label.set_verticalalignment("center")
    ax.set_ylabel(y_label, fontsize=12.3, color="#111111")
    ax.yaxis.set_label_coords((ylabel_xy[0] - left) / w, (bottom - ylabel_xy[1]) / h)
    ax.yaxis.label.set_verticalalignment("center")
    return ax


panel(0, 100, 440.7, 69.3, 336, 75, x_ticks_full, y_ticks_256,
      [("un", sp12_unclass), ("al", sp12_alpha), ("cy", sp12_cyano), ("eu", sp12_euk + sp12_euk_core), ("ba", sp12_bact)],
      (265, 41.5), (270, 381.5), (39, 195))
panel(1, 529, 851.7, 61.7, 333, 73.5, x_ticks_sp5, y_ticks_256,
      [("un", sp5_unclass), ("al", sp5_alpha), ("ba", sp5_bact), ("cy", sp5_cyano), ("eu", sp5_euk), ("ga", sp5_gamma), ("ol", sp5_oligo)],
      (688, 36.5), (696, 379.5), (467, 180))
panel(2, 934.3, 1265.7, 70, 337.7, 75, x_ticks_full, y_ticks_1024,
      [("un", g102_unclass), ("al", g102_alpha), ("cy", g102_cyano), ("eu", g102_euk), ("ga", g102_gamma)],
      (1100.7, 42), (1100, 382.5), (870, 197))
panel(3, 99, 429.3, 481.7, 736.7, 75, x_ticks_full, y_ticks_1024,
      [("un", g202_unclass), ("al", g202_alpha), ("cy", g202_cyano), ("eu", g202_euk + g202_euk_core), ("ba", g202_bact), ("ga", g202_gamma)],
      (258.7, 449.5), (264, 780), (42, 605))
panel(4, 535.3, 859.3, 472.7, 739.3, 75, x_ticks_full, y_ticks_1024,
      [("un", g007_unclass), ("al", g007_alpha), ("cy", g007_cyano), ("eu", g007_euk + g007_euk_core), ("ga", g007_gamma)],
      (691, 446.5), (697, 783), (473, 604))

# legend
keys = ["un", "al", "ba", "cy", "eu", "ga", "ol"]
handle_ms = {"un": 6, "al": 9.5, "ba": 7.5, "cy": 7.5, "eu": 7, "ga": 7.5, "ol": 7.5}
handles = []
for k, name in zip(keys, legend_names):
    st = ST[k]
    handles.append(Line2D([], [], ls="none", marker=st["marker"], ms=handle_ms[k], mfc=st["c"],
                          mec=st["c"] if k == "eu" else st.get("edgecolors", "none"),
                          mew=1.3 if k != "un" else 0, label=name))
leg = fig.legend(handles=handles, loc="upper left",
                 bbox_to_anchor=(926.7 / W, 1 - 438 / H), borderaxespad=0,
                 fontsize=15.6, frameon=True, fancybox=False, edgecolor="#a6a6a6", framealpha=1,
                 labelspacing=0.74, handlelength=1.39, handletextpad=-0.19, borderpad=0.5, labelcolor="#111111")
leg.get_frame().set_linewidth(1.5)

# caption
cap_y = [813, 841, 868]
cap_size = [13.5, 12.85, 13.15]
CAP_FONT = "Open Sans"
CAP_COL = "#444444"
fig.text(27 / W, 1 - cap_y[0] / H, caption_bold, fontsize=14, family=CAP_FONT, fontweight="bold", va="center", color="#222222")
fig.text(77 / W, 1 - cap_y[0] / H, caption_line1, fontsize=cap_size[0], family=CAP_FONT, va="center", color=CAP_COL)
fig.text(27 / W, 1 - cap_y[2] / H, caption_line3, fontsize=cap_size[2], family=CAP_FONT, va="center", color=CAP_COL)
# second line: the "y" is set in italics, so the line is laid out piece by piece
renderer = fig.canvas.get_renderer()
cursor = 27.0
for piece, style in zip(caption_line2, ["normal", "italic", "normal"]):
    t = fig.text(cursor / W, 1 - cap_y[1] / H, piece, fontsize=cap_size[1], family=CAP_FONT, style=style, va="center", color=CAP_COL)
    cursor = t.get_window_extent(renderer).x1 + 0.5

fig.savefig("out.png", dpi=100, facecolor="white")
